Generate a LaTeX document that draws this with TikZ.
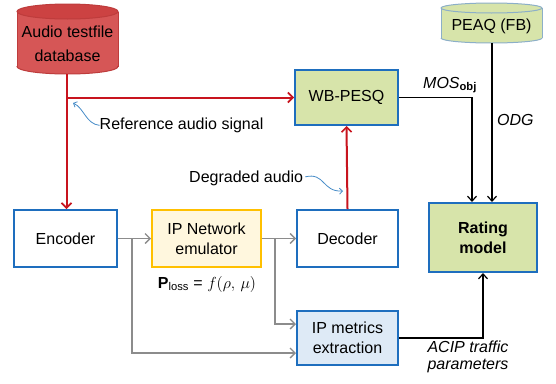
\documentclass[tikz,border=0pt]{standalone}
\usepackage{fix-cm}
\usepackage{fontspec}
\setmainfont{Liberation Sans}
\usetikzlibrary{arrows.meta}
\definecolor{redline}{RGB}{200,20,30}
\definecolor{dbbody}{RGB}{214,86,86}
\definecolor{dbtop}{RGB}{204,66,66}
\definecolor{dbedge}{RGB}{190,60,60}
\definecolor{boxblue}{RGB}{30,110,190}
\definecolor{greenfill}{RGB}{215,228,170}
\definecolor{peaqedge}{RGB}{140,175,200}
\definecolor{goldedge}{RGB}{255,192,0}
\definecolor{yellowfill}{RGB}{255,247,222}
\definecolor{bluefill}{RGB}{222,234,246}
\definecolor{greyline}{RGB}{140,140,140}
\definecolor{annot}{RGB}{70,140,200}
\begin{document}
\begin{tikzpicture}[x=1pt,y=-1pt,
  every node/.style={font=\fontsize{16}{20}\selectfont, inner sep=0pt},
  bluebox/.style={draw=boxblue, line width=2pt, align=center},
  redarrow/.style={draw=redline, line width=2pt, -{Straight Barb[length=5pt,width=10pt,line width=1.6pt]}},
  greyarrow/.style={draw=greyline, line width=1.5pt, -{Straight Barb[length=5pt,width=10pt,line width=1.3pt]}},
  blackarrow/.style={draw=black, line width=1.2pt, -{Straight Barb[length=5pt,width=9pt,line width=1.2pt]}},
  annotarrow/.style={draw=annot, line width=0.8pt, -{Straight Barb[length=3pt,width=6pt,line width=0.8pt]}},
  lbl/.style={anchor=base west}
]
\useasboundingbox (0,0) rectangle (556,383);
\fill[white] (0,0) rectangle (556,383);

% Audio testfile database cylinder
\fill[dbbody] (17,11.5) rectangle (118,66.5);
\fill[dbbody] (67.5,66.5) ellipse [x radius=50.5, y radius=7.5];
\begin{scope}
  \clip (10,66.5) rectangle (125,80);
  \draw[dbedge, line width=1pt] (67.5,66.5) ellipse [x radius=50.5, y radius=7.5];
\end{scope}
\draw[dbedge, line width=1pt] (17,11.5) -- (17,66.5) (118,11.5) -- (118,66.5);
\filldraw[fill=dbtop, draw=dbedge, line width=1pt] (67.5,11.5) ellipse [x radius=50.5, y radius=7.5];
\node[align=center, font=\fontsize{16}{24}\selectfont] (db) at (67.5,44) {Audio testfile\\database};
\coordinate (dbb) at (66.5,74);

% PEAQ cylinder
\fill[greenfill] (441,8) rectangle (542,38);
\fill[greenfill] (491.5,38) ellipse [x radius=50.5, y radius=5];
\begin{scope}
  \clip (435,38) rectangle (550,50);
  \draw[peaqedge, line width=1pt] (491.5,38) ellipse [x radius=50.5, y radius=5];
\end{scope}
\draw[peaqedge, line width=1pt] (441,8) -- (441,38) (542,8) -- (542,38);
\filldraw[fill=greenfill, draw=peaqedge, line width=1pt] (491.5,8) ellipse [x radius=50.5, y radius=5];
\node (peaq) at (491.5,26) {PEAQ (FB)};
\coordinate (peaqb) at (492,43);

% boxes
\node[bluebox, fill=greenfill, minimum width=103pt, minimum height=55pt] (pesq) at (346.5,97.5) {WB-PESQ};
\node[bluebox, fill=white, minimum width=103pt, minimum height=57pt] (enc) at (65.5,238.5) {Encoder};
\node[draw=goldedge, line width=2pt, fill=yellowfill, align=center, minimum width=109pt, minimum height=57pt] (emu) at (206.5,238.5) {IP Network\\emulator};
\node[bluebox, fill=white, minimum width=101pt, minimum height=57pt] (dec) at (347.5,238.5) {Decoder};
\node[bluebox, fill=greenfill, minimum width=108pt, minimum height=69pt, font=\fontsize{16}{20}\selectfont\bfseries] (rate) at (483,237.5) {Rating\\model};
\node[bluebox, fill=bluefill, minimum width=101pt, minimum height=54pt] (ipm) at (347.5,338) {IP metrics\\extraction};

% P_loss
\node (ploss) at (207,284) {\textbf{P}\textsubscript{loss} = $f(\rho,\,\mu)$};

% red connectors
\draw[redarrow] (dbb) -- (dbb |- enc.north);
\draw[redarrow] (dbb |- pesq.west) -- (pesq.west);
\draw[redarrow] (dec.north) -- (pesq.south);

% grey connectors
\draw[greyarrow] (enc.east) -- (emu.west);
\draw[greyarrow] (emu.east) -- (dec.west);
\coordinate (br1) at (132,238.5);
\coordinate (br2) at (275,238.5);
\draw[greyarrow] (br1) |- (ipm.west |- 0,353);
\draw[greyarrow] (br2) |- (ipm.west |- 0,324);

% black connectors
\coordinate (mosx) at (472,97.5);
\draw[blackarrow] (pesq.east) -- (mosx) -- (mosx |- rate.north);
\draw[blackarrow] (peaqb) -- (peaqb |- rate.north);
\draw[blackarrow] (ipm.east) -| (rate.south);

% labels
\node[lbl] (lref) at (99.5,129.5) {Reference audio signal};
\node[lbl] (ldeg) at (189,182) {Degraded audio};
\node[lbl] (lmos) at (423,88) {\textit{MOS}\textsubscript{\textbf{obj}}};
\node[lbl] (lodg) at (497,125) {\textit{ODG}};
\node[align=center, font=\fontsize{16}{17}\selectfont\itshape] (lacip) at (468,357) {ACIP traffic\\parameters};

% annotation arrows
\coordinate (a1) at (73,103);
\coordinate (a2) at (343,191);
\draw[annotarrow] (lref.west) .. controls (86,124) and (84,108) .. (a1);
\draw[annotarrow] (ldeg.east) ++(2,-1) .. controls (325,172) and (322,192) .. (a2);
\end{tikzpicture}
\end{document}
